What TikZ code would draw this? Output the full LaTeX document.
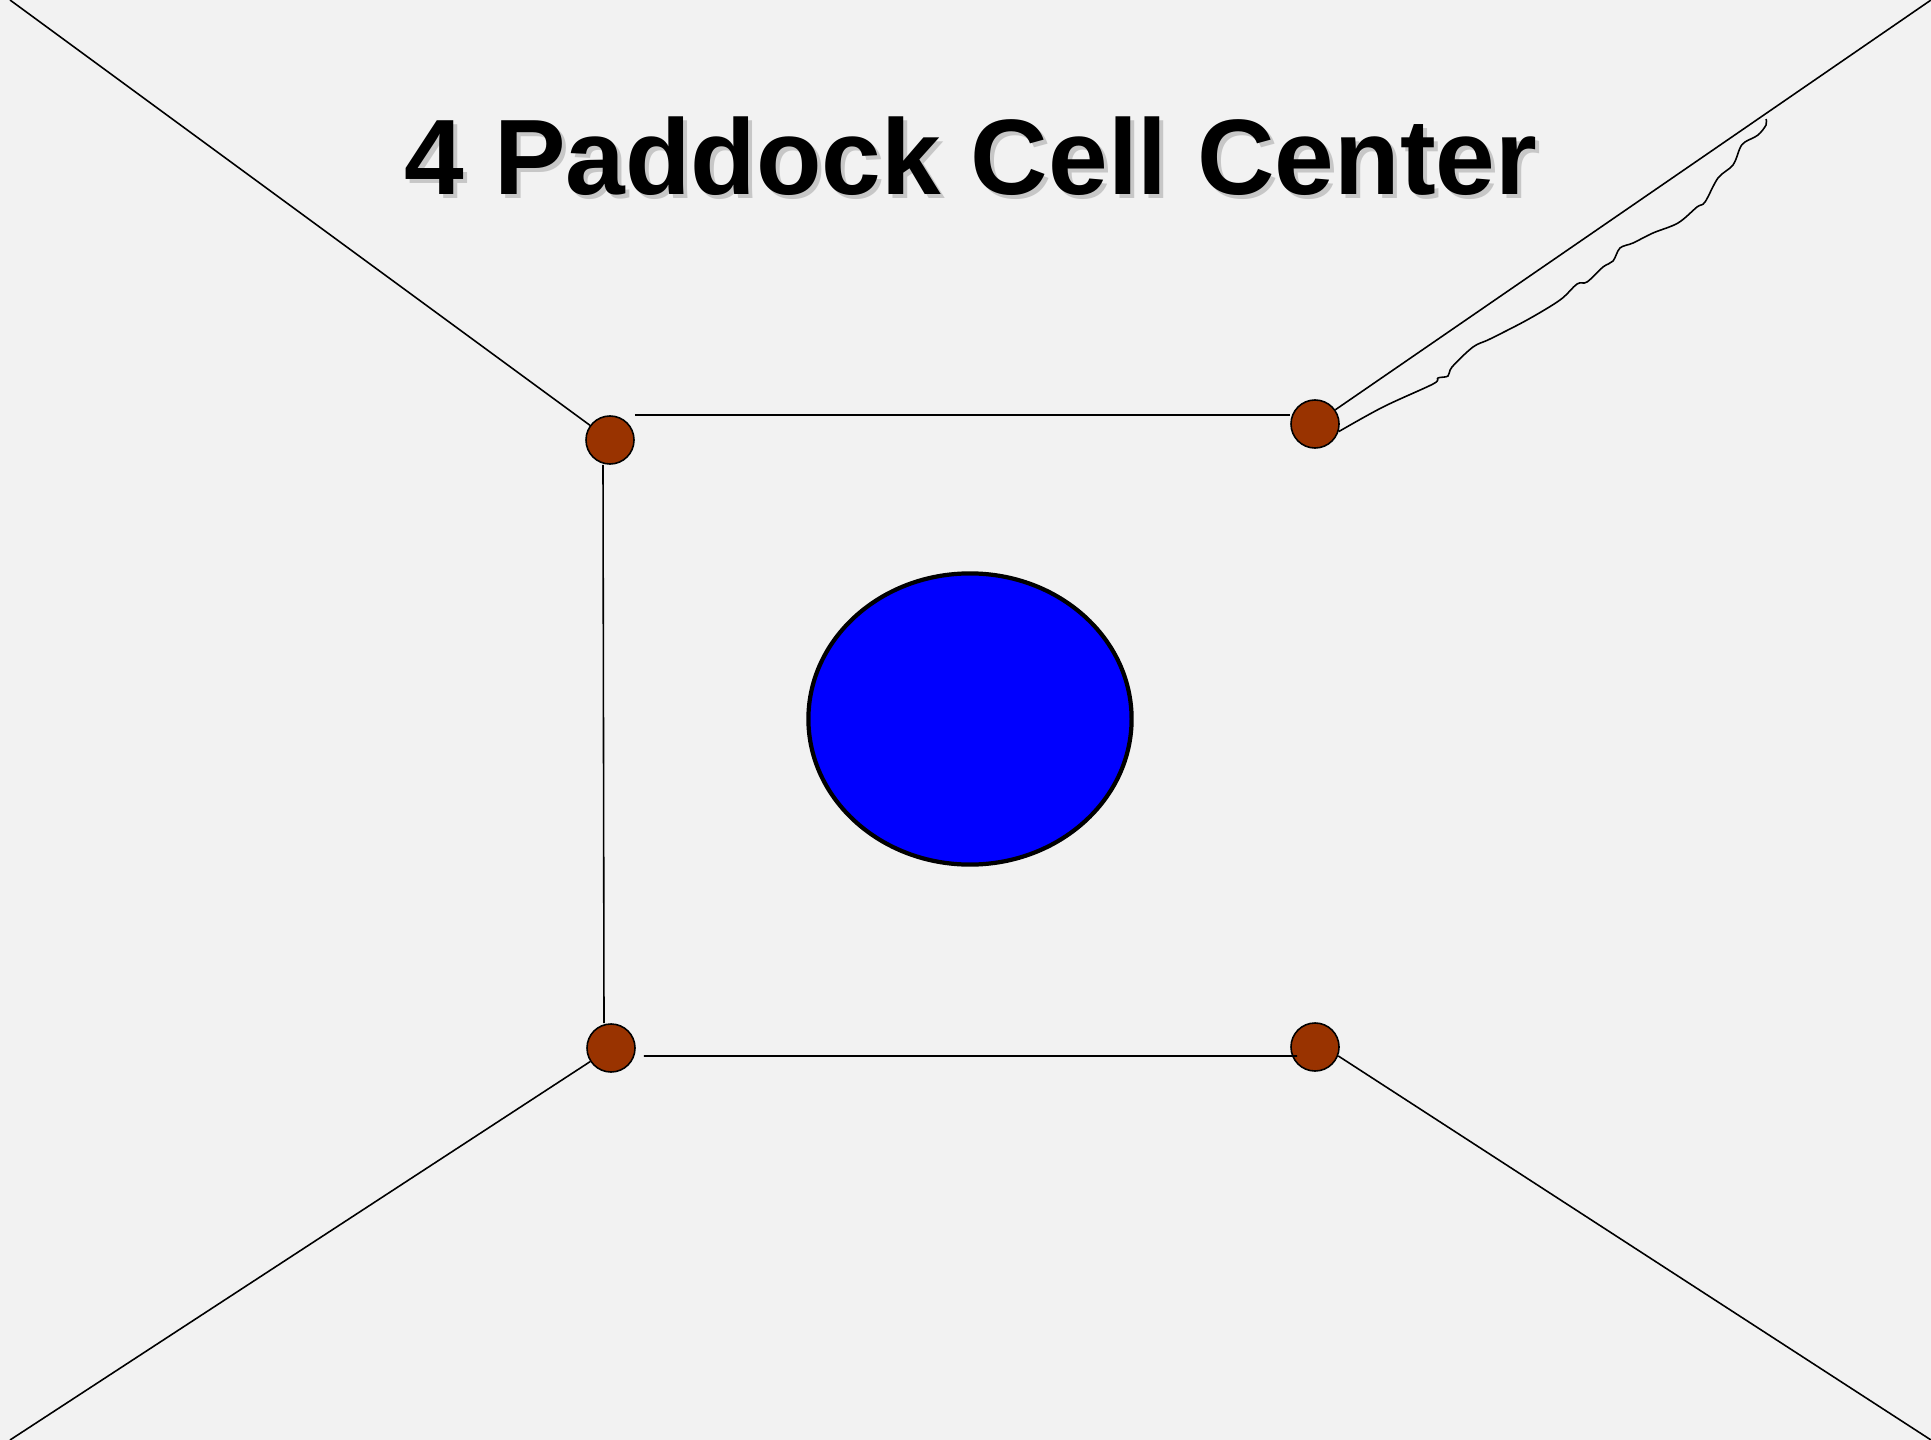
\documentclass[tikz,border=0pt]{standalone}
\usepackage{fontspec}
\setmainfont{Liberation Sans}
\usetikzlibrary{shapes.geometric}

\definecolor{bggray}{HTML}{F2F2F2}
\definecolor{postbrown}{HTML}{993300}
\tikzset{
	post/.style={circle,draw,line width=.45pt,fill=postbrown,minimum size=.48cm,inner sep=0pt},
	fence/.style={line width=.45pt},
	heading/.style={anchor=base,font=\bfseries\fontsize{30.5}{36}\selectfont}
}

\begin{document}
\begin{tikzpicture}[x=.01cm,y=-.01cm]
	\fill[bggray] (0,0) rectangle (1931,1440);
	\useasboundingbox (0,0) rectangle (1931,1440);

	% title
	\node[heading,text=black!22] at (975,199) {4 Paddock Cell Center};
	\node[heading] (title) at (971,195) {4 Paddock Cell Center};

	% corners of the slide
	\coordinate (nw) at (10,0);
	\coordinate (ne) at (1931,0);
	\coordinate (sw) at (10,1440);
	\coordinate (se) at (1931,1440);

	% pond
	\node[ellipse,draw,line width=1.2pt,fill=blue,minimum width=3.23cm,minimum height=2.91cm] (pond) at (970,719) {};

	% posts
	\node[post] (tl) at (610,440) {};
	\node[post] (tr) at (1315,424) {};
	\node[post] (bl) at (611,1048) {};
	\node[post] (br) at (1315,1047) {};

	% fences
	\draw[fence] (nw)--(tl);
	\draw[fence] (tr.35)--(ne);
	\draw[fence] (sw)--(bl);
	\draw[fence] (br.-21)--(se);
	\draw[fence] (tl.east |- tl.north)--(tr.west |- tl.north);
	\draw[fence] ([xshift=-.07cm]tl.south)--([xshift=-.07cm]bl.north);
	\draw[fence] ([xshift=.08cm,yshift=-.08cm]bl.east)--([xshift=.07cm,yshift=-.09cm]br.west);

	% loose wire
	\draw[fence] plot[smooth,tension=.55] coordinates {(tr.-18) (1383,407) (1433,384) (1438,378) (1448,376) (1452,367) (1473,347) (1490,339) (1527,320) (1560,300) (1577,284) (1587,282) (1603,267) (1613,261) (1620,248) (1633,243) (1653,233) (1678,223) (1697,207) (1705,202) (1718,178) (1733,165) (1740,148) (1745,142) (1758,135) (1766,125) (1766,119)};
\end{tikzpicture}
\end{document}
